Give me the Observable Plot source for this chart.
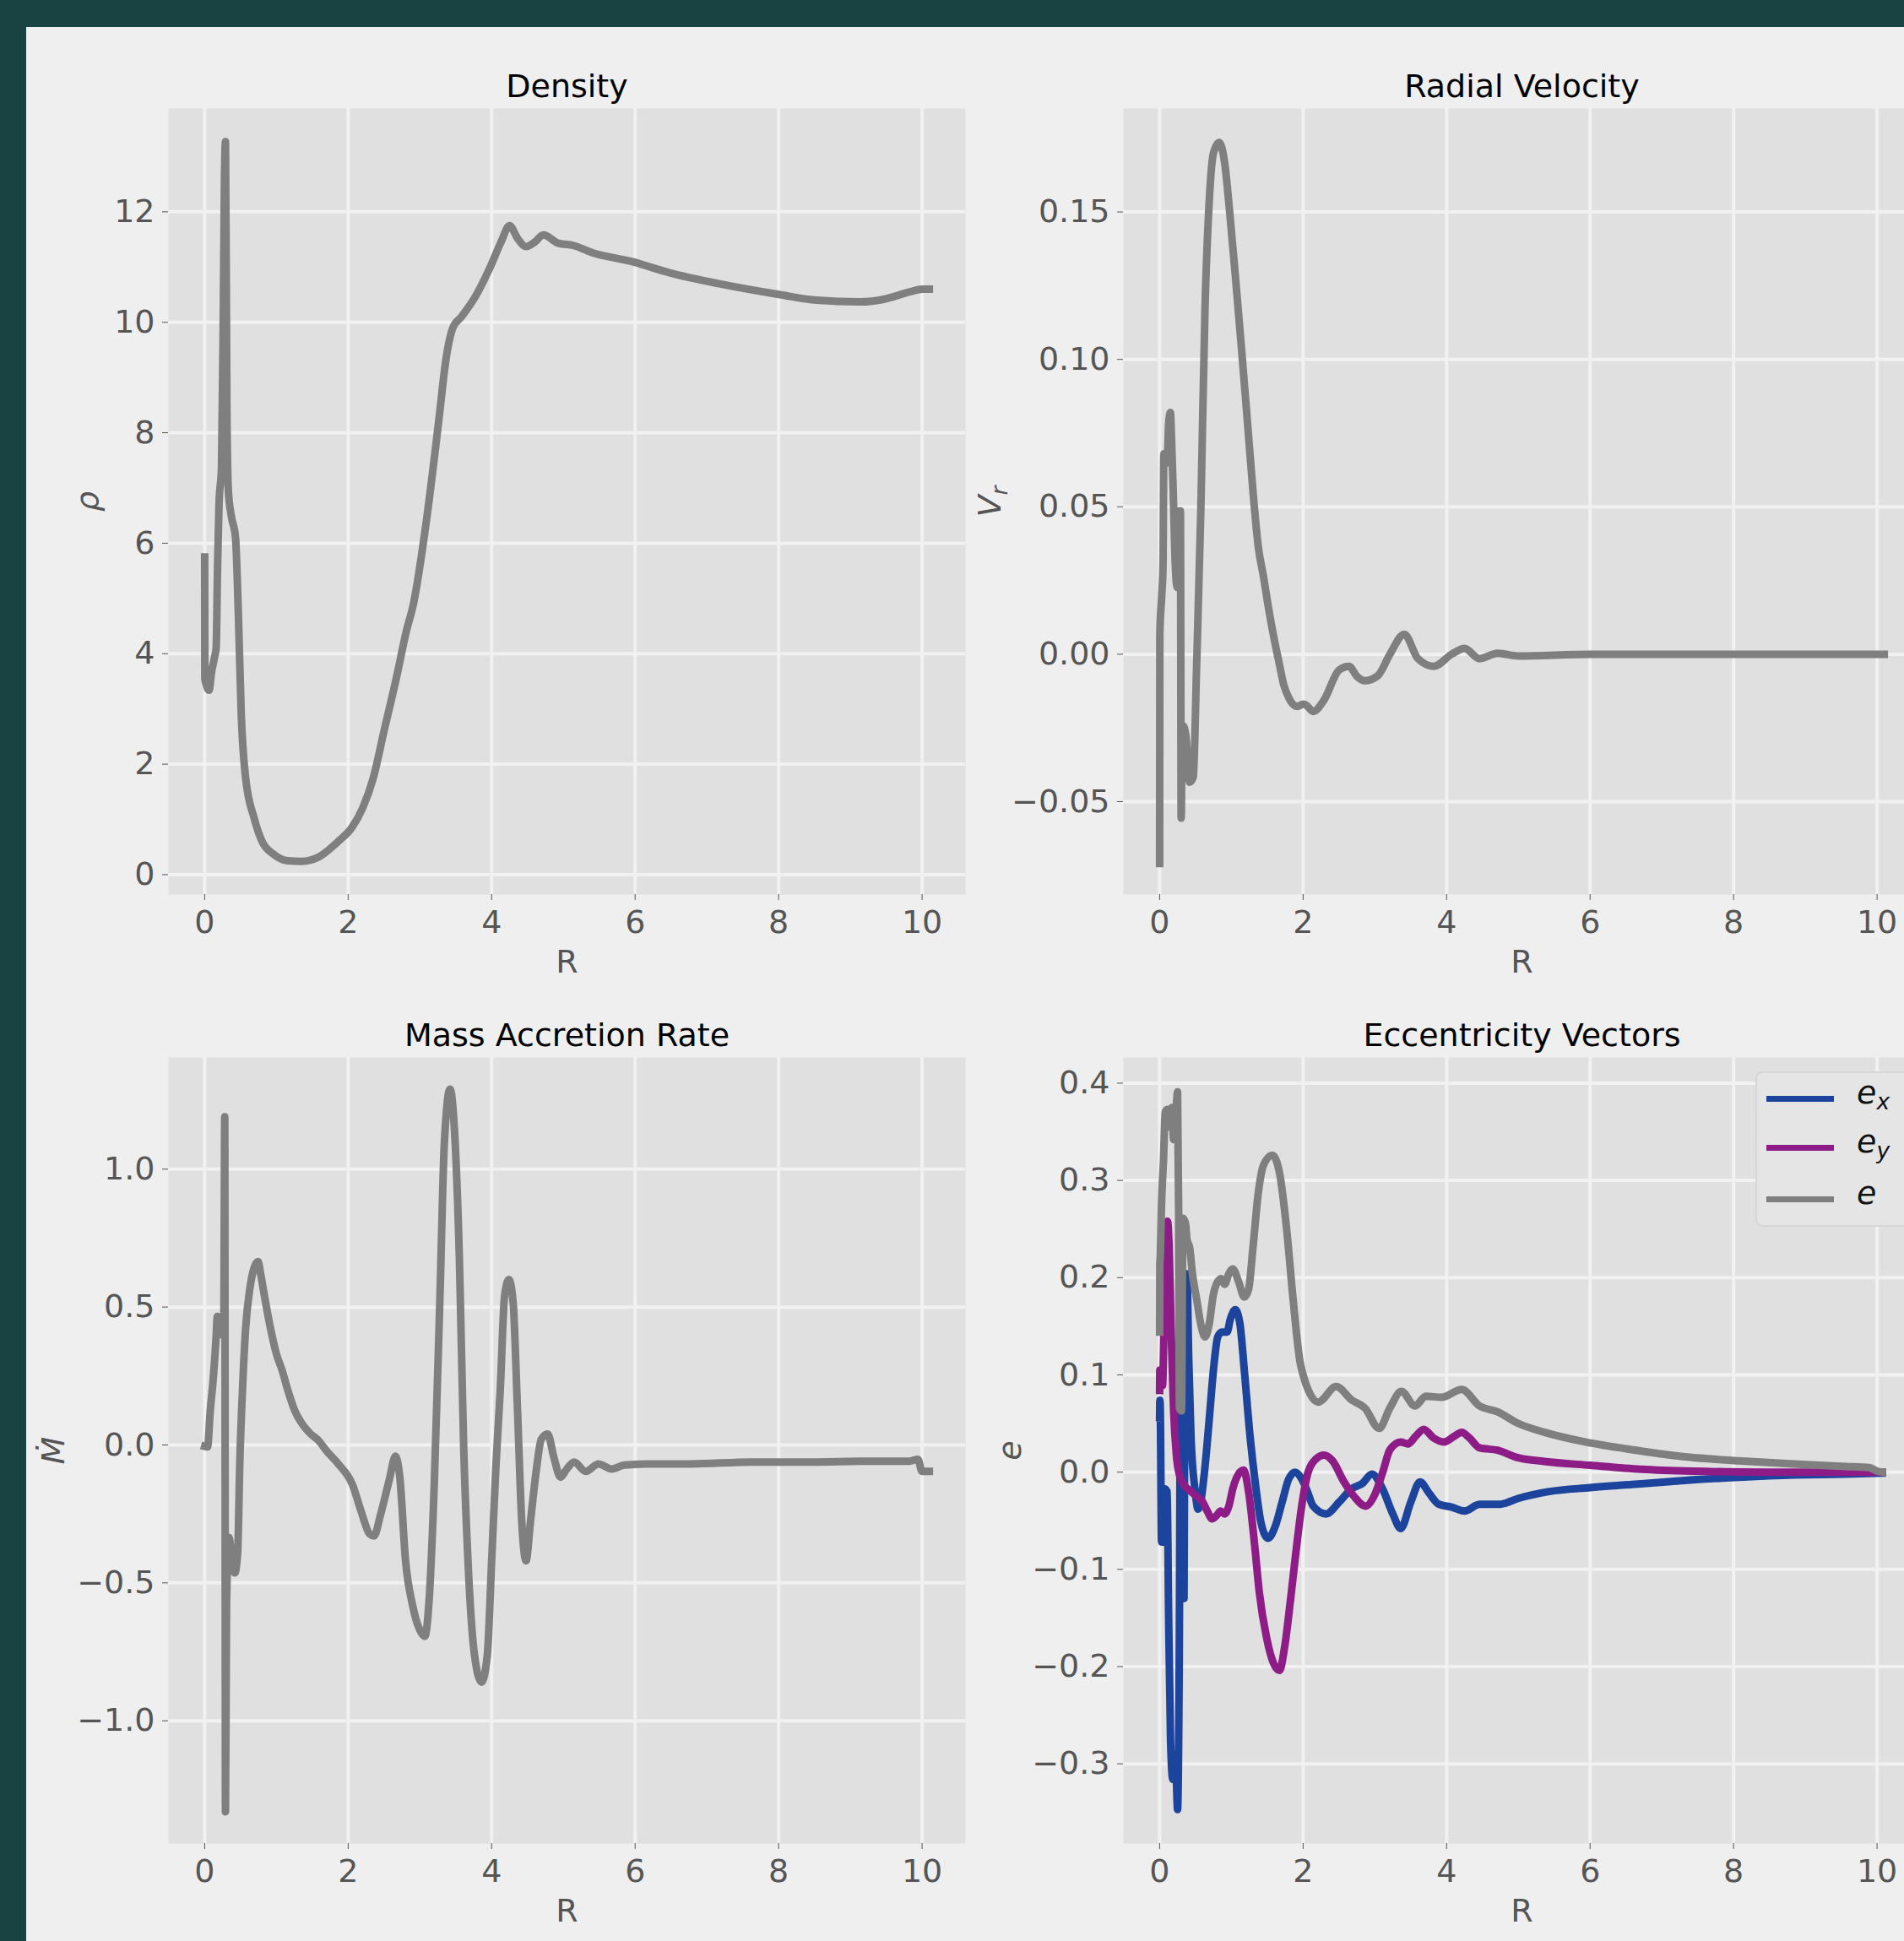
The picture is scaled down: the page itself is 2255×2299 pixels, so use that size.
<!DOCTYPE html>
<html>
<head>
<meta charset="utf-8">
<script src="https://cdn.jsdelivr.net/npm/d3@7"></script>
<script src="https://cdn.jsdelivr.net/npm/@observablehq/plot@0.6"></script>
<style>
  html, body { margin: 0; padding: 0; }
  body { width: 2255px; height: 2299px; overflow: hidden; background: #184342; position: relative; font-family: "DejaVu Sans", sans-serif; }
  #fig { position: absolute; left: 31px; top: 32px; width: 2300px; height: 2300px; background: #efefef; }
  #legend { position: absolute; left: 2079px; top: 1269px; width: 220px; height: 184px; background: #e5e5e5; border: 2px solid #d6d6d6; border-radius: 8px; box-sizing: border-box; }
  .sw { position: absolute; height: 7px; width: 80px; }
  .lb { position: absolute; font-size: 38px; font-style: italic; color: #111; line-height: 1; }
  .lb sub { font-size: 0.7em; vertical-align: -0.25em; }
</style>
</head>
<body>
<div id="fig"></div>
<script>
// ---------- tick values / titles ----------
const xTicks = [0, 2, 4, 6, 8, 10];
const densityTicks = [0, 2, 4, 6, 8, 10, 12];
const vrTicks = [-0.05, 0.0, 0.05, 0.10, 0.15];
const mdotTicks = [-1.0, -0.5, 0.0, 0.5, 1.0];
const eccTicks = [-0.3, -0.2, -0.1, 0.0, 0.1, 0.2, 0.3, 0.4];
const titles = ["Density", "Radial Velocity", "Mass Accretion Rate", "Eccentricity Vectors"];
const legendSubs = ["x", "y", ""];

// ---------- Density ----------
const densityR = [0, 0.002, 0.02, 0.06, 0.1, 0.14, 0.16, 0.18, 0.2, 0.235, 0.26, 0.275, 0.29, 0.31, 0.33, 0.37, 0.43, 0.47, 0.51, 0.57, 0.69, 0.8, 0.96, 1.16, 1.35, 1.59, 1.86, 2.05, 2.2, 2.35, 2.5, 2.67, 2.81, 2.91, 3.09, 3.27, 3.36, 3.46, 3.58, 3.78, 3.97, 4.13, 4.25, 4.36, 4.48, 4.6, 4.72, 4.93, 5.14, 5.4, 5.95, 6.47, 7.16, 8.02, 8.53, 9.14, 9.48, 9.83, 10.0, 10.1];
const densityVal = [5.75, 3.55, 3.45, 3.34, 3.7, 3.95, 4.1, 5.6, 6.7, 7.4, 10.2, 12.5, 13.27, 8.4, 6.95, 6.5, 6.1, 4.7, 2.9, 1.76, 1.02, 0.6, 0.37, 0.25, 0.24, 0.32, 0.6, 0.85, 1.2, 1.75, 2.6, 3.55, 4.4, 4.9, 6.4, 8.3, 9.3, 9.9, 10.1, 10.48, 10.97, 11.45, 11.75, 11.52, 11.37, 11.45, 11.58, 11.43, 11.39, 11.26, 11.1, 10.9, 10.7, 10.5, 10.4, 10.37, 10.42, 10.55, 10.6, 10.6];

// ---------- Radial velocity ----------
const vrR = [0, 0.003, 0.03, 0.047, 0.059, 0.08, 0.105, 0.125, 0.15, 0.17, 0.19, 0.21, 0.234, 0.25, 0.265, 0.272, 0.29, 0.3, 0.315, 0.33, 0.367, 0.418, 0.469, 0.516, 0.574, 0.633, 0.69, 0.75, 0.83, 0.906, 0.98, 1.06, 1.14, 1.22, 1.3, 1.375, 1.45, 1.53, 1.61, 1.67, 1.73, 1.8, 1.92, 2.0, 2.04, 2.14, 2.29, 2.5, 2.64, 2.75, 2.86, 3.04, 3.21, 3.41, 3.6, 3.82, 4.07, 4.25, 4.46, 4.71, 5.0, 6.0, 8.0, 10.1];
const vrVal = [-0.071, 0.007, 0.02, 0.03, 0.068, 0.066, 0.065, 0.078, 0.082, 0.07, 0.055, 0.036, 0.024, 0.0226, 0.024, 0.0486, 0.0486, -0.0556, -0.0243, -0.0243, -0.028, -0.0434, -0.0417, -0.0035, 0.0486, 0.118, 0.153, 0.17, 0.1736, 0.1667, 0.149, 0.127, 0.104, 0.08, 0.0556, 0.0365, 0.026, 0.0139, 0.0035, -0.0035, -0.0104, -0.0148, -0.0177, -0.0169, -0.0172, -0.0194, -0.0156, -0.0054, -0.0041, -0.0075, -0.009, -0.0073, 0.0, 0.0068, -0.0015, -0.0041, 0.0, 0.002, -0.0015, 0.0003, -0.0006, 0, 0, 0];

// ---------- Mass accretion rate ----------
const mdotR = [0, 0.04, 0.078, 0.118, 0.157, 0.176, 0.208, 0.224, 0.265, 0.28, 0.29, 0.305, 0.34, 0.37, 0.42, 0.46, 0.49, 0.53, 0.57, 0.63, 0.686, 0.745, 0.78, 0.84, 0.92, 1.0, 1.08, 1.157, 1.255, 1.35, 1.47, 1.59, 1.7, 1.86, 2.06, 2.18, 2.3, 2.36, 2.45, 2.57, 2.66, 2.72, 2.8, 2.9, 2.99, 3.07, 3.13, 3.2, 3.28, 3.34, 3.42, 3.48, 3.55, 3.61, 3.67, 3.76, 3.86, 3.94, 4.0, 4.06, 4.12, 4.18, 4.24, 4.3, 4.36, 4.42, 4.48, 4.54, 4.63, 4.69, 4.78, 4.87, 4.96, 5.04, 5.15, 5.31, 5.49, 5.67, 5.85, 6.18, 6.78, 7.61, 8.45, 9.22, 9.82, 9.94, 10.0, 10.1];
const mdotVal = [-0.005, -0.007, 0.125, 0.236, 0.38, 0.466, 0.457, 0.4, 0.4, 1.19, -1.33, -0.575, -0.335, -0.39, -0.464, -0.39, -0.06, 0.217, 0.42, 0.567, 0.64, 0.665, 0.62, 0.53, 0.42, 0.33, 0.27, 0.2, 0.125, 0.08, 0.042, 0.015, -0.022, -0.068, -0.144, -0.24, -0.323, -0.33, -0.254, -0.13, -0.041, -0.117, -0.42, -0.584, -0.666, -0.694, -0.556, -0.144, 0.543, 1.09, 1.29, 1.15, 0.68, -0.007, -0.42, -0.76, -0.86, -0.76, -0.42, -0.076, 0.2, 0.54, 0.6, 0.515, 0.13, -0.28, -0.42, -0.28, -0.076, 0.02, 0.04, -0.048, -0.117, -0.09, -0.062, -0.096, -0.069, -0.087, -0.073, -0.069, -0.069, -0.062, -0.062, -0.059, -0.059, -0.052, -0.096, -0.096];

// ---------- Eccentricity: e_x ----------
const exR = [0, 0.003, 0.008, 0.027, 0.047, 0.066, 0.105, 0.125, 0.152, 0.184, 0.203, 0.22, 0.25, 0.273, 0.29, 0.32, 0.34, 0.35, 0.38, 0.406, 0.437, 0.496, 0.535, 0.574, 0.633, 0.69, 0.75, 0.81, 0.867, 0.94, 0.984, 1.055, 1.12, 1.18, 1.26, 1.34, 1.41, 1.51, 1.61, 1.71, 1.8, 1.89, 1.98, 2.06, 2.14, 2.32, 2.5, 2.68, 2.82, 2.96, 3.1, 3.25, 3.36, 3.5, 3.63, 3.75, 3.89, 4.07, 4.25, 4.46, 4.75, 5.0, 5.43, 6.0, 6.71, 7.43, 8.14, 8.86, 9.57, 10.07];
const exVal = [0.056, 0.074, 0.069, -0.072, -0.072, -0.017, -0.02, -0.145, -0.275, -0.316, -0.316, -0.29, -0.347, -0.197, 0.063, -0.13, -0.13, 0.063, 0.204, 0.115, 0.037, -0.02, -0.038, -0.03, 0.006, 0.053, 0.105, 0.139, 0.144, 0.144, 0.157, 0.167, 0.152, 0.105, 0.037, -0.015, -0.051, -0.068, -0.056, -0.03, -0.007, 0.0, -0.007, -0.02, -0.035, -0.043, -0.031, -0.017, -0.012, -0.002, -0.016, -0.043, -0.058, -0.031, -0.01, -0.021, -0.033, -0.036, -0.04, -0.033, -0.033, -0.027, -0.02, -0.016, -0.012, -0.008, -0.005, -0.003, -0.002, -0.001];

// ---------- Eccentricity: e_y ----------
const eyR = [0, 0.003, 0.008, 0.04, 0.066, 0.086, 0.11, 0.133, 0.164, 0.195, 0.234, 0.28, 0.36, 0.437, 0.516, 0.594, 0.67, 0.73, 0.79, 0.85, 0.906, 0.965, 1.02, 1.1, 1.17, 1.24, 1.32, 1.39, 1.49, 1.59, 1.67, 1.74, 1.82, 1.9, 1.98, 2.07, 2.18, 2.29, 2.41, 2.57, 2.71, 2.87, 3.0, 3.11, 3.21, 3.36, 3.46, 3.57, 3.68, 3.82, 3.96, 4.11, 4.21, 4.32, 4.46, 4.71, 5.0, 5.36, 6.0, 6.71, 7.43, 8.43, 10.07];
const eyVal = [0.084, 0.105, 0.105, 0.089, 0.167, 0.219, 0.258, 0.23, 0.136, 0.063, 0.017, -0.004, -0.015, -0.02, -0.025, -0.03, -0.041, -0.048, -0.045, -0.04, -0.043, -0.035, -0.017, -0.002, 0.002, -0.02, -0.072, -0.124, -0.17, -0.197, -0.204, -0.181, -0.134, -0.082, -0.035, 0.0, 0.0136, 0.0175, 0.0116, -0.01, -0.025, -0.035, -0.023, 0.0, 0.023, 0.031, 0.029, 0.037, 0.044, 0.035, 0.031, 0.037, 0.041, 0.035, 0.025, 0.0225, 0.0147, 0.011, 0.007, 0.003, 0.001, 0, 0];

// ---------- Eccentricity: |e| ----------
const eR = [0, 0.003, 0.008, 0.027, 0.055, 0.078, 0.105, 0.125, 0.145, 0.172, 0.195, 0.22, 0.25, 0.265, 0.275, 0.305, 0.325, 0.36, 0.38, 0.42, 0.457, 0.516, 0.574, 0.633, 0.69, 0.75, 0.81, 0.86, 0.906, 0.965, 1.02, 1.1, 1.18, 1.24, 1.3, 1.375, 1.45, 1.57, 1.67, 1.77, 1.86, 1.96, 2.0, 2.1, 2.21, 2.46, 2.68, 2.86, 3.06, 3.21, 3.37, 3.56, 3.71, 3.93, 4.21, 4.46, 4.71, 5.0, 5.36, 5.93, 6.64, 7.36, 8.07, 8.79, 9.57, 9.89, 10.0, 10.07];
const eVal = [0.144, 0.214, 0.22, 0.277, 0.323, 0.37, 0.373, 0.355, 0.37, 0.375, 0.342, 0.36, 0.391, 0.27, 0.066, 0.063, 0.261, 0.256, 0.24, 0.23, 0.204, 0.178, 0.152, 0.139, 0.152, 0.183, 0.196, 0.199, 0.193, 0.204, 0.209, 0.196, 0.18, 0.188, 0.23, 0.287, 0.316, 0.326, 0.308, 0.25, 0.178, 0.112, 0.1, 0.08, 0.072, 0.088, 0.074, 0.066, 0.045, 0.066, 0.083, 0.068, 0.078, 0.077, 0.085, 0.068, 0.062, 0.05, 0.041, 0.031, 0.0225, 0.0155, 0.0116, 0.0085, 0.0058, 0.0047, 0.001, 0];

// ---------- styling ----------
const GRAY = "#7f7f7f", BLUE = "#1d449c", PURPLE = "#8e1c86";
const PANEL_BG = "#e0e0e0", GRID = "#f1f1f1", TICK = "#555555";
const FONT = 38;
const X_DOMAIN = [-0.505, 10.605];
const W = 944, H = 931, mL = 230, mT = 100, mR = 40, mB = 130;

const toRows = (R, V) => R.map((r, i) => ({R: r, v: V[i]}));

function styleLabel(svg, parts) {
  const g = svg.querySelector('g[aria-label="y-axis label"]');
  if (!g) return;
  const t = g.querySelector("text");
  if (!t) return;
  const ns = "http://www.w3.org/2000/svg";
  t.setAttribute("font-style", "italic");
  while (t.firstChild) t.removeChild(t.firstChild);
  const main = document.createElementNS(ns, "tspan");
  main.textContent = parts[0];
  t.appendChild(main);
  if (parts[1]) {
    const sub = document.createElementNS(ns, "tspan");
    sub.textContent = parts[1];
    sub.setAttribute("font-size", "0.7em");
    sub.setAttribute("dy", "0.3em");
    t.appendChild(sub);
  }
}

function panel({title, series, yDomain, yTicks, yFormat, yLabel, yLabelOffset, fx, fy}) {
  const chart = Plot.plot({
    width: mL + W + mR,
    height: mT + H + mB,
    marginLeft: mL, marginRight: mR, marginTop: mT, marginBottom: mB,
    x: {type: "linear", domain: X_DOMAIN},
    y: {type: "linear", domain: yDomain},
    style: {background: "transparent", overflow: "visible", fontFamily: "DejaVu Sans", fontSize: FONT + "px", maxWidth: "none"},
    marks: [
      Plot.frame({fill: PANEL_BG, stroke: "none"}),
      Plot.gridX(xTicks, {stroke: GRID, strokeOpacity: 1, strokeWidth: 4}),
      Plot.gridY(yTicks, {stroke: GRID, strokeOpacity: 1, strokeWidth: 4}),
      Plot.axisX(xTicks, {tickSize: 7, tickPadding: 12, fontSize: FONT, color: TICK, tickFormat: d3.format("d"),
        label: "R", labelAnchor: "center", labelOffset: 92, labelArrow: "none"}),
      Plot.axisY(yTicks, {tickSize: 7, tickPadding: 9, fontSize: FONT, color: TICK, tickFormat: yFormat,
        label: yLabel[0] + (yLabel[1] || ""), labelAnchor: "center", labelOffset: yLabelOffset, labelArrow: "none"}),
      ...series.map(s => Plot.line(toRows(s.R, s.V), {x: "R", y: "v", stroke: s.color, strokeWidth: 9,
        curve: "monotone-x", strokeLinecap: "square", strokeLinejoin: "round"})),
      Plot.text([title], {text: d => d, frameAnchor: "top", lineAnchor: "bottom", dy: -14, fontSize: FONT, fill: "#000"})
    ]
  });
  styleLabel(chart, yLabel);
  chart.style.position = "absolute";
  chart.style.left = (fx - mL) + "px";
  chart.style.top = (fy - mT) + "px";
  document.body.appendChild(chart);
}

const LEFT = 199, RIGHT = 1330, TOP = 128, BOTTOM = 1252;

panel({title: titles[0], series: [{R: densityR, V: densityVal, color: GRAY}],
  yDomain: [-0.36, 13.87], yTicks: densityTicks, yFormat: d3.format("d"),
  yLabel: ["ρ"], yLabelOffset: 110, fx: LEFT, fy: TOP});

panel({title: titles[1], series: [{R: vrR, V: vrVal, color: GRAY}],
  yDomain: [-0.0815, 0.1851], yTicks: vrTicks, yFormat: d3.format(".2f"),
  yLabel: ["V", "r"], yLabelOffset: 172, fx: RIGHT, fy: TOP});

panel({title: titles[2], series: [{R: mdotR, V: mdotVal, color: GRAY}],
  yDomain: [-1.445, 1.405], yTicks: mdotTicks, yFormat: d3.format(".1f"),
  yLabel: ["Ṁ"], yLabelOffset: 150, fx: LEFT, fy: BOTTOM});

panel({title: titles[3], series: [
    {R: exR, V: exVal, color: BLUE},
    {R: eyR, V: eyVal, color: PURPLE},
    {R: eR, V: eVal, color: GRAY}],
  yDomain: [-0.3819, 0.4264], yTicks: eccTicks, yFormat: d3.format(".1f"),
  yLabel: ["e"], yLabelOffset: 148, fx: RIGHT, fy: BOTTOM});

// ---------- legend ----------
const legend = document.createElement("div");
legend.id = "legend";
const legendColors = [BLUE, PURPLE, GRAY];
const rowCenters = [30, 88, 149];
legendSubs.forEach((sub, i) => {
  const sw = document.createElement("div");
  sw.className = "sw";
  sw.style.left = "11px";
  sw.style.top = (rowCenters[i] - 3.5) + "px";
  sw.style.background = legendColors[i];
  legend.appendChild(sw);
  const lb = document.createElement("div");
  lb.className = "lb";
  lb.style.left = "118px";
  lb.style.top = (rowCenters[i] - 26) + "px";
  lb.innerHTML = "e" + (sub ? "<sub>" + sub + "</sub>" : "");
  legend.appendChild(lb);
});
document.body.appendChild(legend);
</script>
</body>
</html>
